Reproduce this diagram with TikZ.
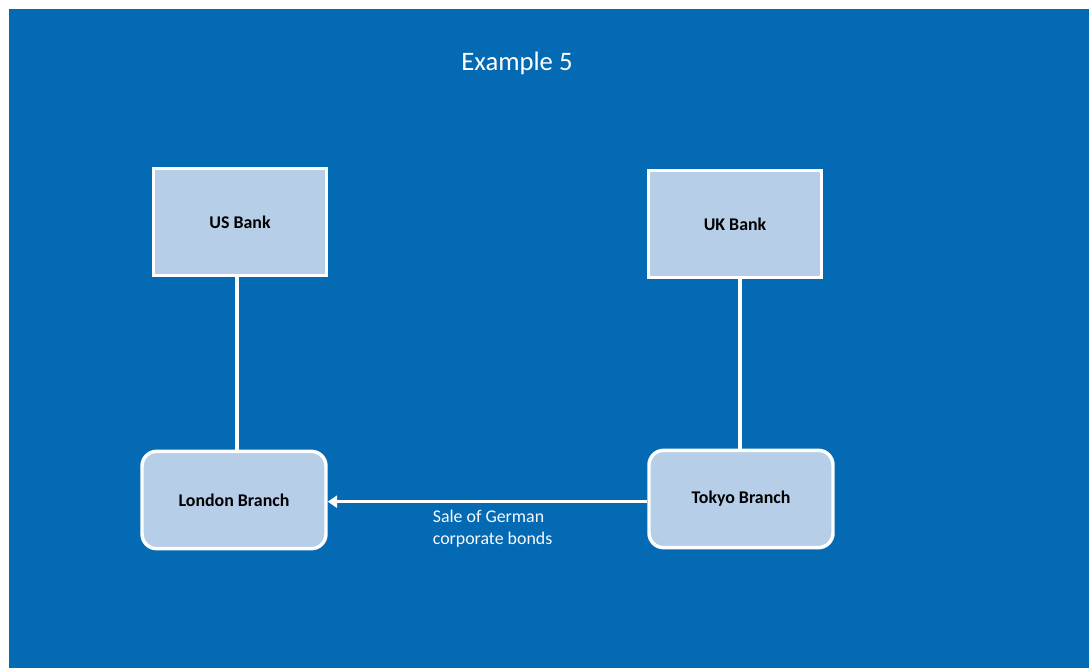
\documentclass[tikz,border=0pt]{standalone}
\usepackage{fontspec}
\setmainfont{Carlito}
\usetikzlibrary{arrows.meta,positioning}
\definecolor{slideblue}{RGB}{4,106,180}
\definecolor{boxblue}{RGB}{182,206,232}
\tikzset{
  bank/.style={draw=white, line width=2.6pt, fill=boxblue, minimum width=130pt, minimum height=80pt, font=\bfseries\fontsize{13.4}{16}\selectfont},
  branch/.style={bank, rounded corners=11pt, minimum width=138pt, minimum height=73pt},
  link/.style={draw=white, line width=2.4pt},
}
\begin{document}
\begin{tikzpicture}[x=0.75pt, y=-0.75pt]
  % page and slide background
  \useasboundingbox (0,0) rectangle (1089,668);
  \fill[white] (0,0) rectangle (1089,668);
  \fill[slideblue] (9,9) rectangle (1089,668);
  \node[text=white, font=\fontsize{20}{24}\selectfont] (title) at (517,63) {Example 5};
  % banks and branches
  \node[bank] (usbank) at (240,222) {US Bank};
  \node[bank] (ukbank) at (735,224) {UK Bank};
  \node[branch] (london) at (234,500) {London Branch};
  \node[branch] (tokyo) at (741,499) {Tokyo Branch};
  % links
  \draw[link] ([xshift=-2.3pt]usbank.south) -- ([xshift=-2.3pt]usbank.south |- london.north);
  \draw[link] ([xshift=3.8pt]ukbank.south) -- ([xshift=3.8pt]ukbank.south |- tokyo.north);
  \draw[link, -{Triangle[length=7pt, width=9pt]}] ([yshift=-2pt]tokyo.west) -- ([yshift=-2pt]tokyo.west -| london.east)
    node[pos=0.676, anchor=north west, inner sep=0pt, yshift=-5pt, align=left, text=white!90!boxblue, font=\fontsize{13.4}{16.5}\selectfont] (sale) {Sale of German\\corporate bonds};
\end{tikzpicture}
\end{document}
